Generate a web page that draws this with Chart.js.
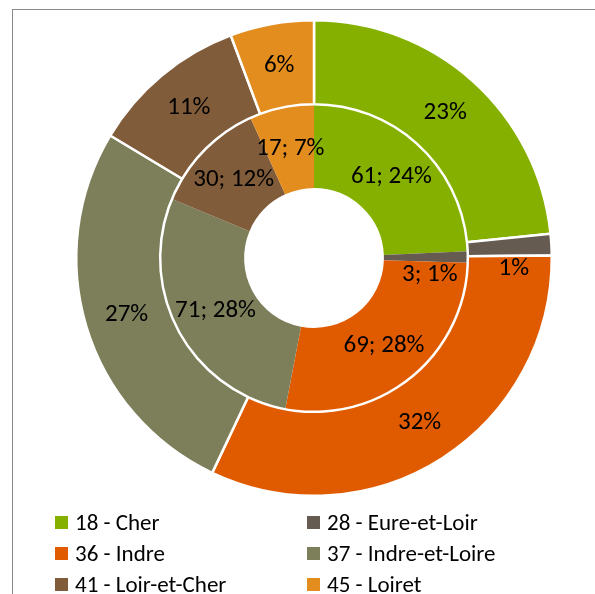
<!DOCTYPE html>
<html>
<head>
<meta charset="utf-8">
<script src="https://cdn.jsdelivr.net/npm/chart.js@4/dist/chart.umd.min.js"></script>
<style>
    body { margin: 0; background: #fff; }
    #wrap { position: relative; width: 595px; height: 594px; overflow: hidden; }
    #frame {
        position: absolute; left: 12px; top: 9px; width: 640px; height: 640px;
        border-left: 1px solid #8a8a8a; border-top: 1px solid #8a8a8a;
    }
    #pie { position: absolute; left: 0; top: 0; }
    #legend {
        position: absolute; left: 55px; top: 506px;
        display: grid; grid-template-columns: 252px auto;
        font-family: Carlito, Calibri, Lato, sans-serif; font-size: 23px; color: #000;
    }
    .item { height: 31px; display: flex; align-items: center; white-space: nowrap; }
    .box { width: 13px; height: 13px; margin-right: 7px; margin-top: 2px; }
</style>
</head>
<body>
<div id="wrap">
    <div id="frame"></div>
    <canvas id="pie" width="595" height="594"></canvas>
    <div id="legend"></div>
</div>
<script>
const departments = ['18 - Cher', '28 - Eure-et-Loir', '36 - Indre', '37 - Indre-et-Loire', '41 - Loir-et-Cher', '45 - Loiret'];
// inner ring: counts with the shares printed on the labels
const innerCounts = [61, 3, 69, 71, 30, 17];
const innerPct = [24, 1, 28, 28, 12, 7];
// outer ring: shares (%)
const outerShares = [23.4, 1.45, 32.25, 26.6, 10.7, 5.7];

const colors = ['#86B000', '#655B50', '#E05B00', '#7D7F5A', '#815C3A', '#E38D1F'];

const legend = document.getElementById('legend');
departments.forEach((name, i) => {
    const item = document.createElement('div');
    item.className = 'item';
    item.innerHTML = '<span class="box" style="background:' + colors[i] + '"></span>' + name;
    legend.appendChild(item);
});

const sliceLabels = {
    id: 'sliceLabels',
    afterDatasetsDraw(chart) {
        const ctx = chart.ctx;
        ctx.save();
        ctx.font = '25px Carlito, Calibri, Lato, sans-serif';
        ctx.fillStyle = '#000';
        ctx.textAlign = 'center';
        ctx.textBaseline = 'middle';
        chart.data.datasets.forEach((ds, d) => {
            const meta = chart.getDatasetMeta(d);
            const total = ds.data.reduce((a, b) => a + b, 0);
            meta.data.forEach((arc, i) => {
                const p = arc.getProps(['x', 'y', 'startAngle', 'endAngle', 'innerRadius', 'outerRadius'], true);
                let a = (p.startAngle + p.endAngle) / 2;
                const r = (p.innerRadius + p.outerRadius) / 2;
                let dx = 0, dy = 0;
                // thin slice: put the label just past the slice
                if (ds.data[i] / total < 0.02) { a = p.endAngle; dx = 4; dy = 13; }
                ctx.fillText(ds.labelText[i], p.x + Math.cos(a) * r + dx, p.y + Math.sin(a) * r + dy);
            });
        });
        ctx.restore();
    }
};

const outerTotal = outerShares.reduce((a, b) => a + b, 0);

new Chart(document.getElementById('pie'), {
    type: 'doughnut',
    data: {
        labels: departments,
        datasets: [
            {
                data: outerShares,
                backgroundColor: colors,
                borderColor: '#fff',
                borderWidth: 2.5,
                labelText: outerShares.map(v => Math.round(v / outerTotal * 100) + '%'),
            },
            {
                data: innerCounts,
                backgroundColor: colors,
                borderColor: colors,
                borderWidth: 0,
                labelText: innerCounts.map((v, i) => v + '; ' + innerPct[i] + '%'),
            },
        ],
    },
    options: {
        responsive: false,
        animation: false,
        cutout: '29.4%',
        layout: { padding: { left: 75, right: 42, top: 19, bottom: 97 } },
        plugins: {
            legend: { display: false },
            tooltip: { enabled: false },
        },
    },
    plugins: [sliceLabels],
});
</script>
</body>
</html>
